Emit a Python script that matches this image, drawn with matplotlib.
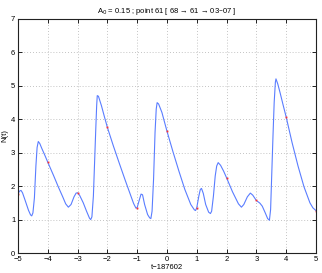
import matplotlib
matplotlib.use("Agg")
import matplotlib.pyplot as plt

plt.rcParams['font.family'] = ['Liberation Sans', 'DejaVu Sans']

# curve samples
t = [-5.00, -4.95, -4.90, -4.85, -4.76, -4.65, -4.58, -4.54, -4.50, -4.45,
     -4.40, -4.36, -4.32, -4.27, -4.20, -4.10, -4.00, -3.80, -3.65, -3.50,
     -3.40, -3.31, -3.22, -3.12, -3.05, -3.00, -2.93, -2.81, -2.70, -2.60,
     -2.56, -2.52, -2.47, -2.43, -2.39, -2.36, -2.34, -2.30, -2.20, -2.10,
     -2.00, -1.80, -1.60, -1.40, -1.25, -1.12, -1.04, -1.00, -0.93, -0.87,
     -0.82, -0.75, -0.65, -0.58, -0.54, -0.50, -0.45, -0.40, -0.36, -0.33,
     -0.28, -0.17, 0.00, 0.20, 0.40, 0.60, 0.80, 0.92, 0.96, 1.00,
     1.07, 1.12, 1.16, 1.22, 1.30, 1.40, 1.46, 1.50, 1.56, 1.62,
     1.67, 1.72, 1.80, 1.90, 2.00, 2.20, 2.40, 2.50, 2.58, 2.70,
     2.80, 2.88, 3.00, 3.12, 3.20, 3.30, 3.38, 3.44, 3.48, 3.52,
     3.56, 3.60, 3.64, 3.66, 3.72, 3.80, 3.90, 4.00, 4.20, 4.40,
     4.60, 4.80, 4.90, 5.00]
N = [1.77, 1.85, 1.87, 1.80, 1.57, 1.28, 1.14, 1.11, 1.20, 1.65,
     2.60, 3.15, 3.33, 3.27, 3.12, 2.92, 2.71, 2.30, 1.98, 1.68,
     1.47, 1.37, 1.45, 1.68, 1.79, 1.80, 1.72, 1.50, 1.25, 1.04,
     1.00, 1.08, 1.70, 2.70, 3.70, 4.40, 4.70, 4.68, 4.40, 4.07,
     3.75, 3.20, 2.68, 2.17, 1.80, 1.48, 1.34, 1.36, 1.58, 1.76,
     1.74, 1.45, 1.15, 1.05, 1.03, 1.25, 2.20, 3.60, 4.30, 4.49,
     4.45, 4.20, 3.64, 3.03, 2.45, 1.90, 1.45, 1.29, 1.27, 1.35,
     1.70, 1.90, 1.93, 1.78, 1.45, 1.22, 1.18, 1.25, 1.70, 2.30,
     2.60, 2.70, 2.62, 2.45, 2.25, 1.83, 1.47, 1.37, 1.45, 1.68,
     1.79, 1.73, 1.57, 1.49, 1.40, 1.20, 1.03, 0.98, 1.30, 2.40,
     3.50, 4.50, 5.10, 5.20, 5.05, 4.78, 4.42, 4.07, 3.30, 2.60,
     1.98, 1.50, 1.35, 1.27]

# marked points at integer times
pt_t = [-5, -4, -3, -2, -1, 0, 1, 2, 3, 4, 5]
pt_N = [1.77, 2.71, 1.79, 3.75, 1.36, 3.64, 1.35, 2.25, 1.57, 4.07, 1.27]

xticks = [-5, -4, -3, -2, -1, 0, 1, 2, 3, 4, 5]
yticks = [0, 1, 2, 3, 4, 5, 6, 7]

fig = plt.figure(figsize=(3.22, 2.73), dpi=100)
ax = fig.add_axes([0.056, 0.073, 0.925, 0.859])
ax.plot(t, N, color='#5a7dff', lw=0.8)
ax.plot(pt_t, pt_N, ls='none', marker='s', ms=1.3, mfc='#ff3030', mec='#ff3030', mew=0)
ax.set_xlim(-5, 5)
ax.set_ylim(0, 7)
ax.set_xticks(xticks)
ax.set_yticks(yticks)
ax.grid(True, ls=(0, (1, 2.5)), color='#b0b0b0', lw=0.6)
ax.tick_params(direction='in', length=3, width=0.6, labelsize=5.5,
               top=True, right=True)
ax.tick_params(axis='x', pad=2.2)
ax.tick_params(axis='y', pad=2.0)
for s in ax.spines.values():
    s.set_linewidth(0.8)
    s.set_color('#222222')
ax.set_xlabel('t\u2212187602', fontsize=5.5, labelpad=0.3)
ax.set_ylabel('N(t)', fontsize=5.5, labelpad=2)
ax.set_title('A$_0$ = 0.15 ; point 61 [ 68 \u2192 61 \u2192 03\u201307 ]', fontsize=5.5, pad=4)
fig.savefig('out.png', dpi=100)
